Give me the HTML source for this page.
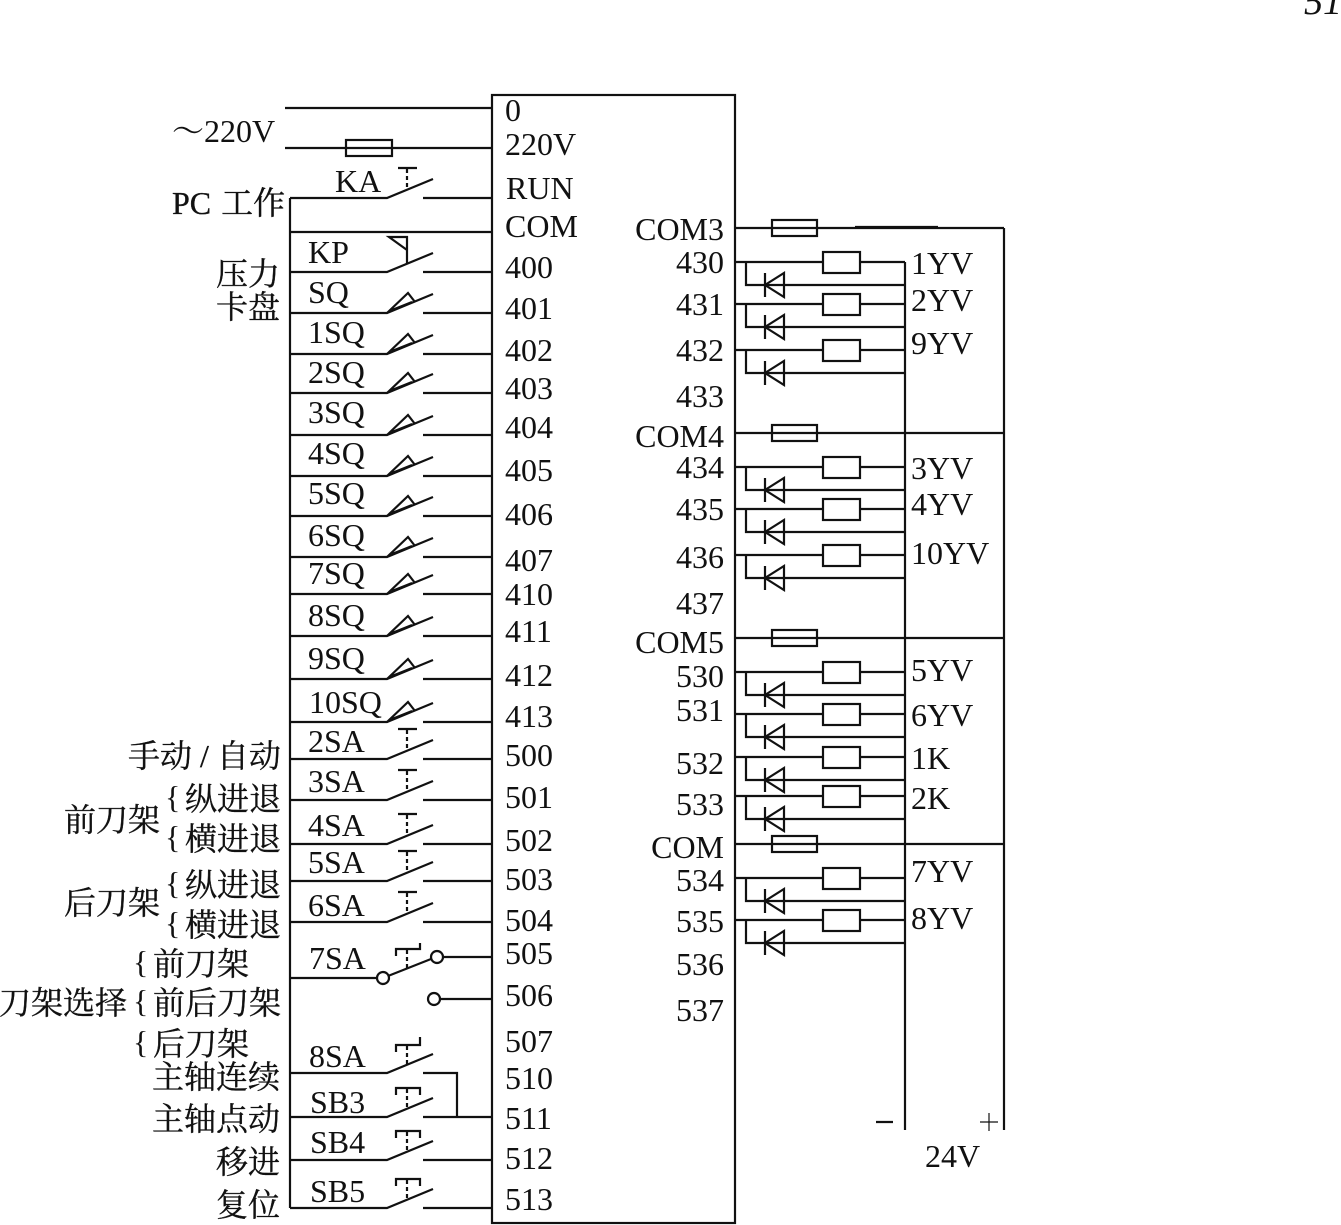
<!DOCTYPE html>
<html><head><meta charset="utf-8"><title>PLC wiring diagram</title>
<style>
html,body{margin:0;padding:0;background:#fff;width:1341px;height:1225px;overflow:hidden}
svg{display:block}
text{font-family:"Liberation Serif","Noto Serif CJK SC",serif;font-size:32px;fill:#111}
.c{font-size:32px;stroke:#111;stroke-width:.35px}
.e{text-anchor:end}
.l{stroke:#111;stroke-width:2.2;fill:none}
.d{stroke:#111;stroke-width:2.2;fill:none;stroke-dasharray:4 3}
</style></head><body>
<svg width="1341" height="1225" viewBox="0 0 1341 1225" xmlns="http://www.w3.org/2000/svg">
<defs>
<g id="sw" class="l"><path d="M290 0H387L433 -19M423 0H492"/></g>
<g id="sq"><use href="#sw"/><path class="l" d="M387 0L408 -20L415 -11M392 -3L412 -11"/></g>
<g id="t"><use href="#sw"/><path class="l" d="M398 -30H417"/><path class="d" d="M407 -29V-10"/></g>
<g id="b"><use href="#sw"/><path class="l" d="M396 -22V-29H420V-22"/><path class="d" d="M407 -28V-9"/></g>
<g id="cd" class="l">
<path d="M735 0H905M746 0V23H905"/><rect x="823" y="-10" width="37" height="21" fill="#fff"/>
<path d="M765 11V35M784 11V35L765 23Z"/>
</g>
<g id="fu"><path class="l" d="M735 0H1004"/><rect class="l" x="772" y="-8" width="45" height="16" fill="#fff"/></g>
</defs>

<!-- PLC box -->
<rect class="l" x="492" y="95" width="243" height="1128"/>

<!-- supply -->
<path class="l" d="M285 108H492M285 148H492"/>
<rect class="l" x="346" y="140" width="46" height="16" fill="#fff"/>

<!-- left bus -->
<path class="l" d="M290 198V1208M290 232H492"/>

<!-- switches -->
<use href="#t" y="198"/>
<use href="#sw" y="272"/>
<path class="l" d="M407 264V237H389L407 250"/>
<use href="#sq" y="313"/>
<use href="#sq" y="354"/>
<use href="#sq" y="393"/>
<use href="#sq" y="435"/>
<use href="#sq" y="476"/>
<use href="#sq" y="516"/>
<use href="#sq" y="557"/>
<use href="#sq" y="594"/>
<use href="#sq" y="636"/>
<use href="#sq" y="679"/>
<use href="#sq" y="722"/>
<use href="#t" y="759"/>
<use href="#t" y="800"/>
<use href="#t" y="844"/>
<use href="#t" y="881"/>
<use href="#t" y="922"/>

<!-- 7SA -->
<path class="l" d="M290 978H377M388 976L431 959M443 957H492M440 999H492M396 956V949H420V943"/>
<path class="d" d="M407 950V970"/>
<circle class="l" cx="383" cy="978" r="6" fill="#fff"/>
<circle class="l" cx="437" cy="957" r="6" fill="#fff"/>
<circle class="l" cx="434" cy="999" r="6" fill="#fff"/>

<!-- 8SA -->
<path class="l" d="M290 1073H387L433 1054M423 1073H457V1117M396 1052V1045H420V1037"/>
<path class="d" d="M407 1046V1064"/>
<use href="#b" y="1117"/>
<use href="#b" y="1160"/>
<use href="#b" y="1208"/>

<!-- right side -->
<path class="l" d="M905 262V1130M1004 228V1130"/>
<path class="l" d="M855 227H938"/>
<use href="#fu" y="228"/>
<use href="#fu" y="433"/>
<use href="#fu" y="638"/>
<use href="#fu" y="844"/>
<use href="#cd" y="262"/>
<use href="#cd" y="304"/>
<use href="#cd" y="350"/>
<use href="#cd" y="467"/>
<use href="#cd" y="509"/>
<use href="#cd" y="555"/>
<use href="#cd" y="672"/>
<use href="#cd" y="714"/>
<use href="#cd" y="757"/>
<use href="#cd" y="796"/>
<use href="#cd" y="878"/>
<use href="#cd" y="920"/>
<path class="l" d="M876 1122H893"/>
<path stroke="#111" stroke-width="1.2" d="M980 1122H998M989 1113V1131"/>

<g transform="translate(0,-1)">
<!-- box left-side labels -->
<text x="505" y="122">0</text>
<text x="505" y="156">220V</text>
<text x="506" y="200">RUN</text>
<text x="505" y="238">COM</text>
<text x="505" y="279">400</text>
<text x="505" y="320">401</text>
<text x="505" y="362">402</text>
<text x="505" y="400">403</text>
<text x="505" y="439">404</text>
<text x="505" y="482">405</text>
<text x="505" y="526">406</text>
<text x="505" y="572">407</text>
<text x="505" y="606">410</text>
<text x="505" y="643">411</text>
<text x="505" y="687">412</text>
<text x="505" y="728">413</text>
<text x="505" y="767">500</text>
<text x="505" y="809">501</text>
<text x="505" y="852">502</text>
<text x="505" y="891">503</text>
<text x="505" y="932">504</text>
<text x="505" y="965">505</text>
<text x="505" y="1007">506</text>
<text x="505" y="1053">507</text>
<text x="505" y="1090">510</text>
<text x="505" y="1130">511</text>
<text x="505" y="1170">512</text>
<text x="505" y="1211">513</text>

<!-- box right-side labels -->
<text class="e" x="724" y="241">COM3</text>
<text class="e" x="724" y="274">430</text>
<text class="e" x="724" y="316">431</text>
<text class="e" x="724" y="362">432</text>
<text class="e" x="724" y="408">433</text>
<text class="e" x="724" y="448">COM4</text>
<text class="e" x="724" y="479">434</text>
<text class="e" x="724" y="521">435</text>
<text class="e" x="724" y="569">436</text>
<text class="e" x="724" y="615">437</text>
<text class="e" x="724" y="654">COM5</text>
<text class="e" x="724" y="688">530</text>
<text class="e" x="724" y="722">531</text>
<text class="e" x="724" y="775">532</text>
<text class="e" x="724" y="816">533</text>
<text class="e" x="724" y="859">COM</text>
<text class="e" x="724" y="892">534</text>
<text class="e" x="724" y="933">535</text>
<text class="e" x="724" y="976">536</text>
<text class="e" x="724" y="1022">537</text>

<!-- load labels -->
<text x="911" y="275">1YV</text>
<text x="911" y="312">2YV</text>
<text x="911" y="355">9YV</text>
<text x="911" y="480">3YV</text>
<text x="911" y="516">4YV</text>
<text x="911" y="565">10YV</text>
<text x="911" y="682">5YV</text>
<text x="911" y="727">6YV</text>
<text x="911" y="770">1K</text>
<text x="911" y="810">2K</text>
<text x="911" y="883">7YV</text>
<text x="911" y="930">8YV</text>
<text x="925" y="1168">24V</text>

<!-- switch labels -->
<text x="335" y="193">KA</text>
<text x="308" y="264">KP</text>
<text x="308" y="304">SQ</text>
<text x="308" y="344">1SQ</text>
<text x="308" y="384">2SQ</text>
<text x="308" y="424">3SQ</text>
<text x="308" y="465">4SQ</text>
<text x="308" y="505">5SQ</text>
<text x="308" y="547">6SQ</text>
<text x="308" y="585">7SQ</text>
<text x="308" y="627">8SQ</text>
<text x="308" y="670">9SQ</text>
<text x="309" y="714">10SQ</text>
<text x="308" y="753">2SA</text>
<text x="308" y="793">3SA</text>
<text x="308" y="837">4SA</text>
<text x="308" y="874">5SA</text>
<text x="308" y="917">6SA</text>
<text x="309" y="970">7SA</text>
<text x="309" y="1068">8SA</text>
<text x="310" y="1114">SB3</text>
<text x="310" y="1154">SB4</text>
<text x="310" y="1203">SB5</text>
</g>

<!-- far left labels -->
<text class="c" x="172" y="142" style="stroke:none">～220V</text>
<text class="c" x="172" y="214" word-spacing="2">PC 工作</text>
<text class="c" x="216" y="285">压力</text>
<text class="c" x="216" y="318">卡盘</text>
<text class="c" x="128" y="767">手动 / 自动</text>
<text x="165" y="808">{</text><text class="c" x="185" y="810">纵进退</text>
<text x="165" y="848">{</text><text class="c" x="185" y="850">横进退</text>
<text class="c" x="64" y="831">前刀架</text>
<text x="165" y="894">{</text><text class="c" x="185" y="896">纵进退</text>
<text x="165" y="934">{</text><text class="c" x="185" y="936">横进退</text>
<text class="c" x="64" y="914">后刀架</text>
<text x="133" y="973">{</text><text class="c" x="153" y="975">前刀架</text>
<text x="133" y="1012">{</text><text class="c" x="153" y="1014">前后刀架</text>
<text x="133" y="1053">{</text><text class="c" x="153" y="1055">后刀架</text>
<text class="c" x="-1" y="1014">刀架选择</text>
<text class="c" x="152" y="1088">主轴连续</text>
<text class="c" x="152" y="1130">主轴点动</text>
<text class="c" x="216" y="1173">移进</text>
<text class="c" x="216" y="1216">复位</text>

<text x="1304" y="14" font-style="italic" style="font-size:38px">51</text>
</svg>
</body></html>
